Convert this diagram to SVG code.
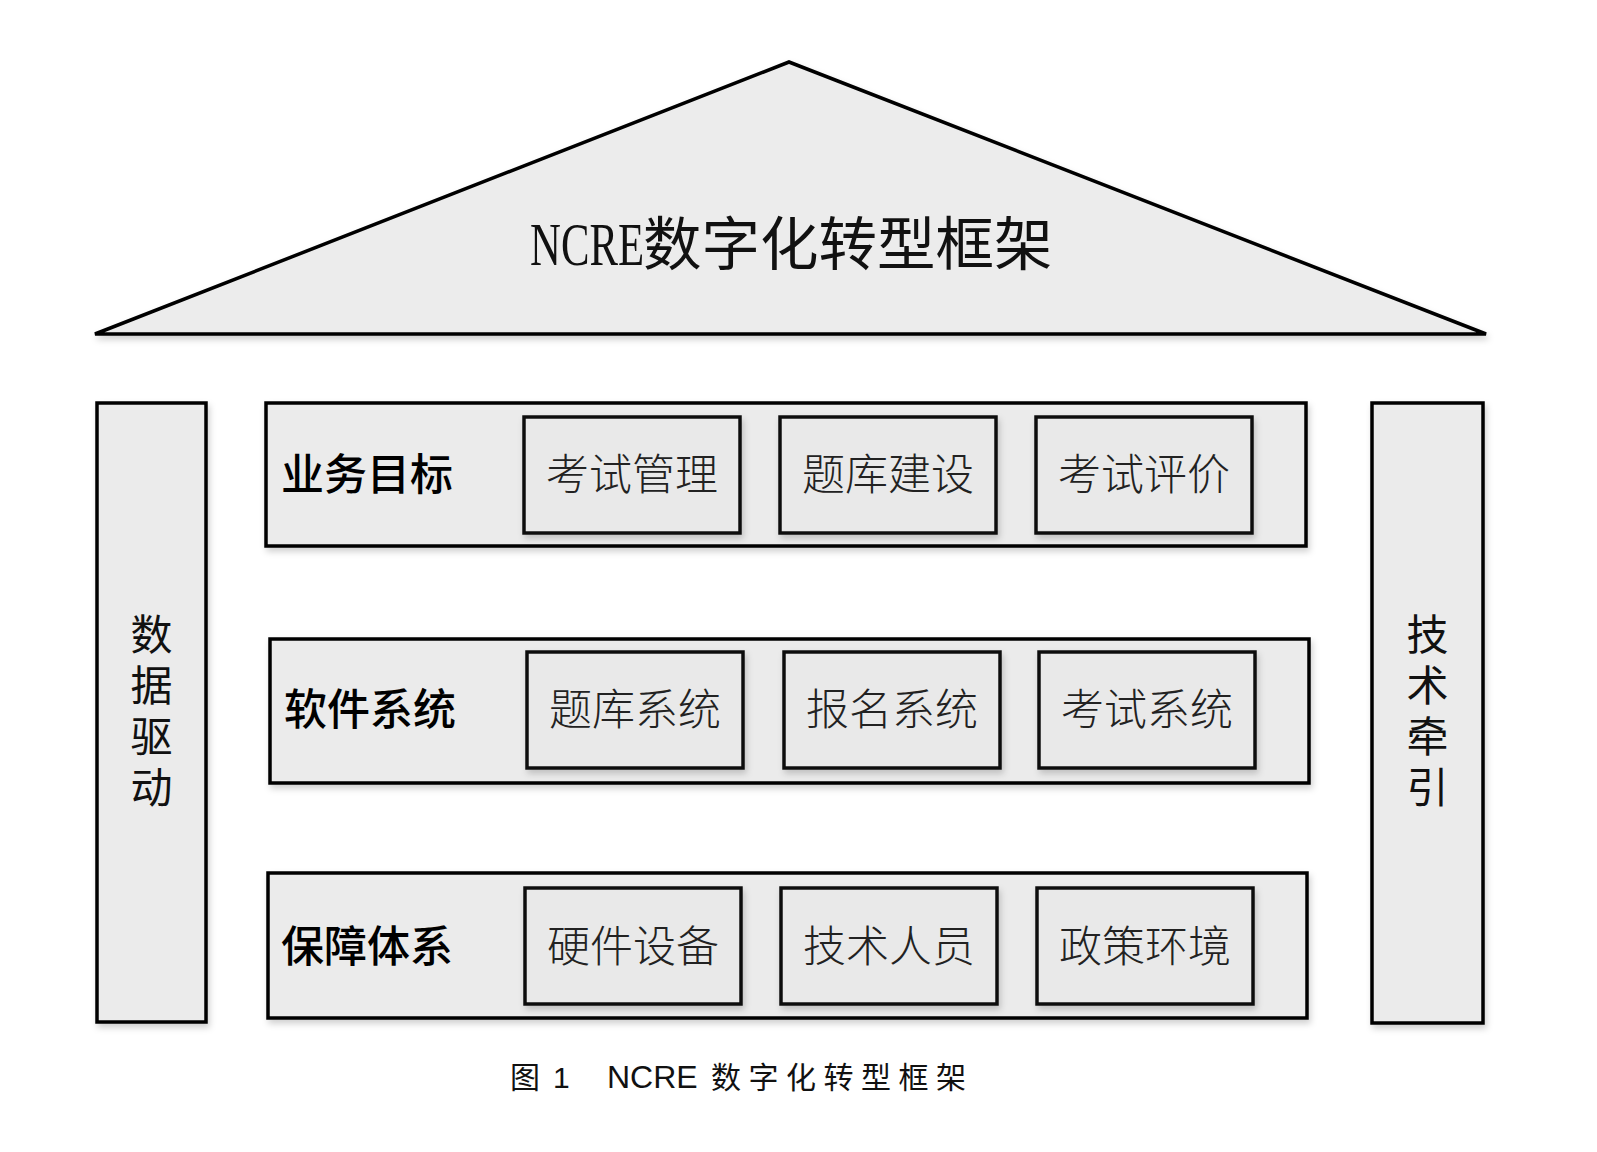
<svg xmlns="http://www.w3.org/2000/svg" width="1597" height="1152" viewBox="0 0 1597 1152">
<style>
.box{fill:#ebebeb;stroke:#000;stroke-width:3.5;filter:url(#sh)}
.inner{fill:#e9e9e9;stroke:#111;stroke-width:3.5;filter:url(#sh)}
.lbl{font-family:"Noto Sans CJK SC",sans-serif;font-size:43px;font-weight:500;fill:#000}
.itx{font-family:"Noto Sans CJK SC",sans-serif;font-size:43px;font-weight:300;fill:#222;text-anchor:middle}
.vt{font-family:"Noto Sans CJK SC",sans-serif;font-size:42px;font-weight:400;fill:#111;writing-mode:vertical-rl;letter-spacing:9px}
</style>
<defs>
<filter id="sh" x="-5%" y="-5%" width="115%" height="120%">
<feDropShadow dx="2" dy="4" stdDeviation="3" flood-color="#000" flood-opacity="0.18"/>
</filter>
</defs>
<rect width="1597" height="1152" fill="#fff"/>
<g id="roof">
<polygon points="789,62 95,334 1486,334" fill="#ececec" stroke="#000" stroke-width="3.5" stroke-linejoin="miter" filter="url(#sh)"/>
<text transform="translate(530,265) scale(0.69,1)" font-family="Liberation Serif,serif" font-size="62" fill="#111">NCRE</text>
<text x="643" y="265" font-family="Noto Sans CJK SC,sans-serif" font-size="58.5" font-weight="400" fill="#111">数字化转型框架</text>
</g>
<g id="pillar-left">
<rect class="box" x="97" y="403" width="109" height="619"/>
<text class="vt" x="151.5" y="613">数据驱动</text>
</g>
<g id="pillar-right">
<rect class="box" x="1372" y="403" width="111" height="620"/>
<text class="vt" x="1427.5" y="613">技术牵引</text>
</g>
<g id="row-business">
<rect class="box" x="266" y="403" width="1040" height="143"/>
<text class="lbl" x="281" y="490">业务目标</text>
</g>
<g id="n-exam-mgmt"><rect class="inner" x="524" y="417" width="216" height="116"/><text class="itx" x="632" y="490">考试管理</text></g>
<g id="n-bank-build"><rect class="inner" x="780" y="417" width="216" height="116"/><text class="itx" x="888" y="490">题库建设</text></g>
<g id="n-exam-eval"><rect class="inner" x="1036" y="417" width="216" height="116"/><text class="itx" x="1144" y="490">考试评价</text></g>
<g id="row-software">
<rect class="box" x="270" y="639" width="1039" height="144"/>
<text class="lbl" x="284" y="725">软件系统</text>
</g>
<g id="n-bank-sys"><rect class="inner" x="527" y="652" width="216" height="116"/><text class="itx" x="635" y="725">题库系统</text></g>
<g id="n-reg-sys"><rect class="inner" x="784" y="652" width="216" height="116"/><text class="itx" x="892" y="725">报名系统</text></g>
<g id="n-exam-sys"><rect class="inner" x="1039" y="652" width="216" height="116"/><text class="itx" x="1147" y="725">考试系统</text></g>
<g id="row-support">
<rect class="box" x="268" y="873" width="1039" height="145"/>
<text class="lbl" x="281" y="962">保障体系</text>
</g>
<g id="n-hardware"><rect class="inner" x="525" y="888" width="216" height="116"/><text class="itx" x="633" y="962">硬件设备</text></g>
<g id="n-staff"><rect class="inner" x="781" y="888" width="216" height="116"/><text class="itx" x="889" y="962">技术人员</text></g>
<g id="n-policy"><rect class="inner" x="1037" y="888" width="216" height="116"/><text class="itx" x="1145" y="962">政策环境</text></g>
<g id="connectors"></g>
<g id="caption">
<text x="510" y="1088" font-family="Noto Sans CJK SC,sans-serif" font-size="30" fill="#111">图</text>
<text x="553" y="1088" font-family="Liberation Sans,sans-serif" font-size="30" fill="#111">1</text>
<text x="607" y="1088" font-family="Liberation Sans,sans-serif" font-size="32" fill="#111">NCRE</text>
<text x="711" y="1088" font-family="Noto Sans CJK SC,sans-serif" font-size="30" font-weight="400" fill="#111" letter-spacing="7.5">数字化转型框架</text>
</g>
</svg>
